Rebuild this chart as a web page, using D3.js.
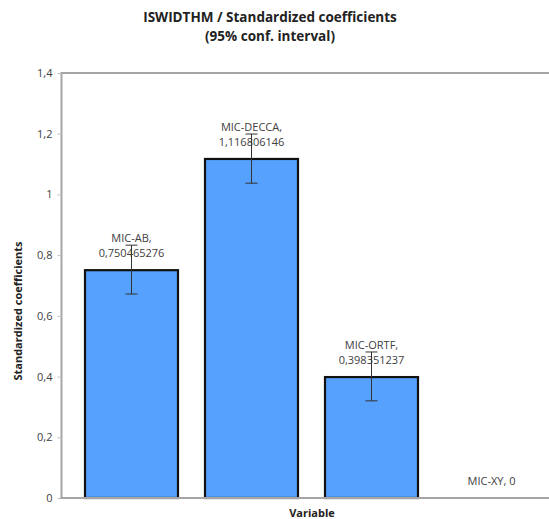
<!DOCTYPE html>
<html>
<head>
<meta charset="utf-8">
<script src="https://cdn.jsdelivr.net/npm/d3@7"></script>
<style>
  html, body { margin: 0; padding: 0; background: #fff; overflow: hidden; }
  svg { display: block; font-family: "Open Sans", "Liberation Sans", sans-serif; }
</style>
</head>
<body>
<svg id="chart" width="549" height="519"></svg>
<script>
// Standardized coefficients per variable, with 95% confidence bounds
const categories = ["MIC-AB", "MIC-DECCA", "MIC-ORTF", "MIC-XY"];
const values = [0.750465276, 1.116806146, 0.398351237, 0];
const lowerBounds = [0.672, 1.037, 0.320, null];
const upperBounds = [0.833, 1.199, 0.481, null];
const valueLabels = ["0,750465276", "1,116806146", "0,398351237", "0"];
const yTicks = [0, 0.2, 0.4, 0.6, 0.8, 1, 1.2, 1.4];
const yTickLabels = ["0", "0,2", "0,4", "0,6", "0,8", "1", "1,2", "1,4"];

const svg = d3.select("#chart");
const plot = { left: 61.5, top: 73, right: 563, bottom: 498 };

const x = d3.scaleBand()
  .domain(categories)
  .range([71.5, 551.5])
  .paddingInner(0.225)
  .paddingOuter(0.1125);

const y = d3.scaleLinear()
  .domain([0, 1.4])
  .range([plot.bottom, plot.top]);

// Title
const title = svg.append("text")
  .attr("x", 270).attr("text-anchor", "middle")
  .attr("font-weight", "bold").attr("font-size", 13.5).attr("fill", "#222");
title.append("tspan").attr("x", 270).attr("y", 22).text("ISWIDTHM / Standardized coefficients");
title.append("tspan").attr("x", 270).attr("y", 41).text("(95% conf. interval)");

// Plot frame (top and left edges)
svg.append("path")
  .attr("d", `M${plot.right},${plot.top}H${plot.left}V${plot.bottom}`)
  .attr("fill", "none").attr("stroke", "#a6a6a6").attr("stroke-width", 2);

// Y axis
const yAxis = d3.axisLeft(y)
  .tickValues(yTicks)
  .tickSize(4)
  .tickPadding(5)
  .tickFormat((d, i) => yTickLabels[i]);

const yg = svg.append("g")
  .attr("transform", `translate(${plot.left},0)`)
  .call(yAxis);
yg.select(".domain").remove();
yg.selectAll(".tick line").attr("stroke", "#bfbfbf");
yg.selectAll(".tick text")
  .attr("fill", "#404040").attr("font-size", 11)
  .attr("font-family", "'Open Sans', sans-serif");

// Bars
const data = categories.map((c, i) => ({
  cat: c, value: values[i], lo: lowerBounds[i], hi: upperBounds[i], label: valueLabels[i]
}));

svg.append("g").selectAll("rect")
  .data(data.filter(d => d.value > 0))
  .join("rect")
  .attr("x", d => x(d.cat))
  .attr("y", d => y(d.value))
  .attr("width", x.bandwidth())
  .attr("height", d => y(0) - y(d.value))
  .attr("fill", "#55a1fd")
  .attr("stroke", "#111")
  .attr("stroke-width", 2.2);

// X axis baseline
svg.append("line")
  .attr("x1", plot.left - 1).attr("x2", plot.right)
  .attr("y1", y(0)).attr("y2", y(0))
  .attr("stroke", "#a6a6a6").attr("stroke-width", 2);

// Value labels
const labels = svg.append("g")
  .attr("font-size", 11).attr("fill", "#404040").attr("text-anchor", "middle");

data.forEach(d => {
  const cx = x(d.cat) + x.bandwidth() / 2;
  if (d.value > 0) {
    const t = labels.append("text");
    t.append("tspan").attr("x", cx).attr("y", y(d.value) - 28).text(d.cat + ",");
    t.append("tspan").attr("x", cx).attr("y", y(d.value) - 13).text(d.label);
  } else {
    labels.append("text").attr("x", cx).attr("y", y(d.value) - 13)
      .text(d.cat + ", " + d.label);
  }
});

// Error bars
const eb = svg.append("g").attr("stroke", "#333").attr("stroke-width", 1);
data.filter(d => d.lo !== null).forEach(d => {
  const cx = x(d.cat) + x.bandwidth() / 2;
  eb.append("line").attr("x1", cx).attr("x2", cx).attr("y1", y(d.lo)).attr("y2", y(d.hi));
  eb.append("line").attr("x1", cx - 6).attr("x2", cx + 6).attr("y1", y(d.lo)).attr("y2", y(d.lo));
  eb.append("line").attr("x1", cx - 6).attr("x2", cx + 6).attr("y1", y(d.hi)).attr("y2", y(d.hi));
});

// Axis titles
svg.append("text")
  .attr("x", 312).attr("y", 517).attr("text-anchor", "middle")
  .attr("font-weight", "bold").attr("font-size", 11).attr("fill", "#222")
  .text("Variable");

svg.append("text")
  .attr("transform", "translate(22,311) rotate(-90)")
  .attr("text-anchor", "middle")
  .attr("font-weight", "bold").attr("font-size", 11).attr("fill", "#222")
  .text("Standardized coefficients");
</script>
</body>
</html>
